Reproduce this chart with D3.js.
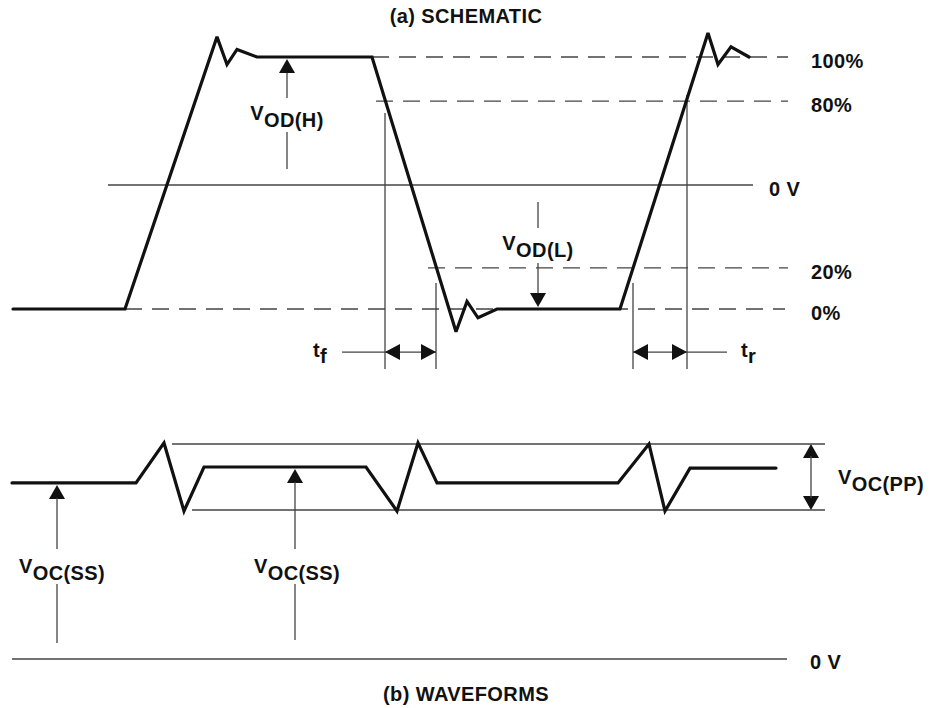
<!DOCTYPE html>
<html>
<head>
<meta charset="utf-8">
<script src="https://cdn.jsdelivr.net/npm/d3@7"></script>
<style>
  body { margin: 0; background: #fff; }
  svg text { font-family: "Liberation Sans", Arial, Helvetica, sans-serif; font-weight: bold; fill: #111; font-size: 20px; letter-spacing: 0.4px; }
</style>
</head>
<body>
<svg id="chart" width="930" height="708"></svg>
<script>
// time is in arbitrary units (about 10 px each), levels are % of the output swing
// (a) differential output, one pulse
var schemT = [1.3, 12.5, 21.7, 22.7, 23.7, 25.7, 37.2, 45.6, 46.7, 47.8, 49.7, 62.0, 70.8, 71.8, 73.1, 74.9];
var schemV = [0, 0, 108, 97, 103, 100, 100, -9, 3, -3.5, 0, 0, 109.5, 97, 104, 100];

// reference levels on the right of (a)
var refLabels = ["100%", "80%", "0 V", "20%", "0%"];
var refLevels = [100, 82.5, 49.2, 16.3, 0];
var refStart = [37.2, 37.6, 10.8, 42.8, 12.5];
var refEnd = [78.8, 78.8, 75.3, 78.8, 78.5];
var refDashed = [true, true, false, true, true];

// (b) common-mode output
var waveT = [1.2, 13.6, 16.4, 18.4, 20.4, 36.6, 39.7, 41.8, 43.7, 61.8, 64.9, 66.5, 69.0, 77.6];
var waveV = [81.9, 81.9, 100.5, 68.8, 89.3, 89.3, 68.8, 100.5, 81.9, 81.9, 100, 68.8, 88.8, 88.8];
var ppLevels = [100, 69.3];
var ppStart = [17.2, 19.2];
var ppEnd = [82.5, 82.5];

var svg = d3.select("#chart");
var x = d3.scaleLinear().domain([0, 93]).range([0, 930]);
var yTop = d3.scaleLinear().domain([0, 100]).range([309, 57]);
var yBot = d3.scaleLinear().domain([0, 100]).range([659, 444]);

var thin = "#444";

function hline(t0, t1, py, dashed) {
  svg.append("line")
    .attr("x1", x(t0)).attr("x2", x(t1))
    .attr("y1", py).attr("y2", py)
    .attr("stroke", thin).attr("stroke-width", 1.3)
    .attr("stroke-dasharray", dashed ? "17,10" : null);
}
function vline(t, py0, py1) {
  svg.append("line")
    .attr("x1", x(t)).attr("x2", x(t))
    .attr("y1", py0).attr("y2", py1)
    .attr("stroke", thin).attr("stroke-width", 1.3);
}
// filled arrow head, tip at (px, py)
function head(px, py, dir) {
  var L = 14, W = 8, pts;
  if (dir == "up") pts = [[px, py], [px - W, py + L], [px + W, py + L]];
  if (dir == "down") pts = [[px, py], [px - W, py - L], [px + W, py - L]];
  if (dir == "left") pts = [[px, py], [px + L + 1, py - W], [px + L + 1, py + W]];
  if (dir == "right") pts = [[px, py], [px - L - 1, py - W], [px - L - 1, py + W]];
  svg.append("polygon").attr("points", pts.join(" ")).attr("fill", "#111");
}
// V with a lowered subscript, centred on cx, sub baseline at by
function subLabel(cx, by, main, sub, anchor) {
  var t = svg.append("text")
    .attr("x", cx).attr("y", by - 7)
    .attr("text-anchor", anchor || "middle");
  t.append("tspan").text(main);
  t.append("tspan").attr("dy", 7).text(sub);
  return t;
}

// titles
svg.append("text").attr("x", 466).attr("y", 23).attr("text-anchor", "middle").text("(a) SCHEMATIC");
svg.append("text").attr("x", 466).attr("y", 701).attr("text-anchor", "middle").text("(b) WAVEFORMS");

// reference lines (a)
refLevels.forEach(function(v, i) {
  hline(refStart[i], refEnd[i], yTop(v), refDashed[i]);
  svg.append("text")
    .attr("x", refDashed[i] ? 811 : 769)
    .attr("y", yTop(v) + 11)
    .text(refLabels[i]);
});

// tf / tr markers
var tfT = [38.5, 43.6], tfFrom = [77.8, 10.3];
var trT = [63.3, 68.7], trFrom = [10.3, 84.9];
var markBottom = -23.8, markArrow = -17.1;
tfT.forEach(function(t, i) { vline(t, yTop(tfFrom[i]), yTop(markBottom)); });
trT.forEach(function(t, i) { vline(t, yTop(trFrom[i]), yTop(markBottom)); });
hline(34.2, tfT[1], yTop(markArrow), false);
hline(trT[0], 72.7, yTop(markArrow), false);
head(x(tfT[0]), yTop(markArrow), "left");
head(x(tfT[1]), yTop(markArrow), "right");
head(x(trT[0]), yTop(markArrow), "left");
head(x(trT[1]), yTop(markArrow), "right");
svg.append("text").attr("x", 313).attr("y", 357).call(function(t) {
  t.append("tspan").text("t");
  t.append("tspan").attr("dy", 6).text("f");
});
svg.append("text").attr("x", 741).attr("y", 357).call(function(t) {
  t.append("tspan").text("t");
  t.append("tspan").attr("dy", 6).text("r");
});

// VOD(H) and VOD(L)
var odhT = 28.7, odlT = 53.8;
head(x(odhT), yTop(100) + 2, "up");
vline(odhT, yTop(100) + 16, yTop(83.7));
vline(odhT, yTop(70.2), yTop(55.6));
subLabel(x(odhT), 127, "V", "OD(H)");

head(x(odlT), yTop(0) - 2, "down");
vline(odlT, yTop(42.5), yTop(32.1));
vline(odlT, yTop(18.3), yTop(0) - 16);
subLabel(x(odlT), 257, "V", "OD(L)");

// schematic waveform
var line = d3.line();
svg.append("path")
  .attr("d", line(schemT.map(function(t, i) { return [x(t), yTop(schemV[i])]; })))
  .attr("fill", "none").attr("stroke", "#111").attr("stroke-width", 3.2)
  .attr("stroke-linejoin", "miter").attr("stroke-miterlimit", 3)
  .attr("stroke-linecap", "round");

// (b) peak-to-peak bounds and ground
ppLevels.forEach(function(v, i) { hline(ppStart[i], ppEnd[i], yBot(v), false); });
hline(1.2, 78.7, yBot(0), false);
svg.append("text").attr("x", 810).attr("y", yBot(0) + 10).text("0 V");

// VOC(PP)
var ppT = 81.1;
head(x(ppT), yBot(ppLevels[0]), "up");
head(x(ppT), yBot(ppLevels[1]), "down");
vline(ppT, yBot(ppLevels[0]) + 12, yBot(ppLevels[1]) - 12);
subLabel(838, 491, "V", "OC(PP)", "start");

// VOC(SS) arrows
var ssT = [5.7, 29.5], ssLevel = [81.9, 89.3], ssEnd = [7.4, 8.8];
var ssCx = [62, 297];
ssT.forEach(function(t, i) {
  head(x(t), yBot(ssLevel[i]) + 2, "up");
  vline(t, yBot(ssLevel[i]) + 15, yBot(51.2));
  vline(t, yBot(34.9), yBot(ssEnd[i]));
  subLabel(ssCx[i], 580, "V", "OC(SS)");
});

svg.append("path")
  .attr("d", line(waveT.map(function(t, i) { return [x(t), yBot(waveV[i])]; })))
  .attr("fill", "none").attr("stroke", "#111").attr("stroke-width", 3.2)
  .attr("stroke-linejoin", "miter").attr("stroke-miterlimit", 3)
  .attr("stroke-linecap", "round");
</script>
</body>
</html>
